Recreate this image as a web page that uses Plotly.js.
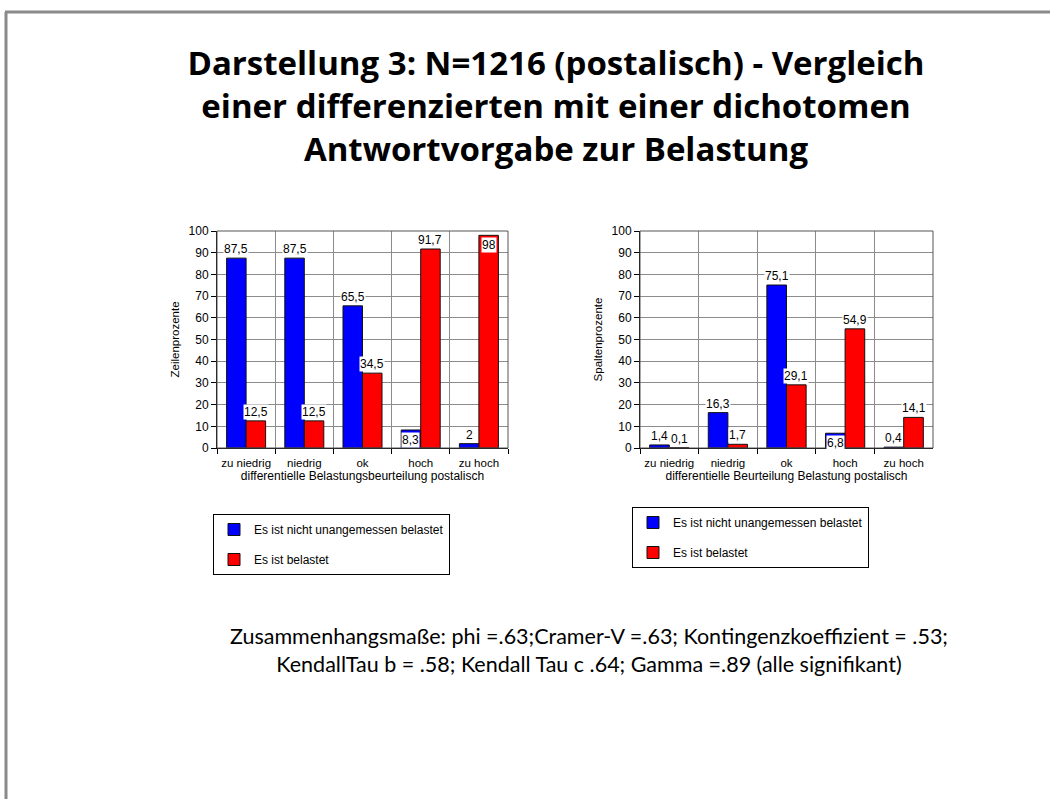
<!DOCTYPE html>
<html>
<head>
<meta charset="utf-8">
<script src="https://cdn.plot.ly/plotly-3.0.1.min.js"></script>
<style>html,body{margin:0;padding:0;background:#fff;}#chart{width:1050px;height:799px;}</style>
</head>
<body>
<div id="chart"></div>
<script>
// ---- data ----
const categories = ['zu niedrig', 'niedrig', 'ok', 'hoch', 'zu hoch'];
const seriesNames = ['Es ist nicht unangemessen belastet', 'Es ist belastet'];
const leftBlue = [87.5, 87.5, 65.5, 8.3, 2];
const leftRed = [12.5, 12.5, 34.5, 91.7, 98];
const rightBlue = [1.4, 16.3, 75.1, 6.8, 0.4];
const rightRed = [0.1, 1.7, 29.1, 54.9, 14.1];
const yTickVals = [0, 10, 20, 30, 40, 50, 60, 70, 80, 90, 100];
const titleText = 'Darstellung 3: N=1216 (postalisch) - Vergleich<br>einer differenzierten mit einer dichotomen<br>Antwortvorgabe zur Belastung';
const footText = 'Zusammenhangsmaße: phi =.63;Cramer-V =.63; Kontingenzkoeffizient = .53;<br>KendallTau b = .58; Kendall Tau c .64; Gamma =.89 (alle signifikant)';
const leftYTitle = 'Zeilenprozente';
const rightYTitle = 'Spaltenprozente';
const leftXTitle = 'differentielle Belastungsbeurteilung postalisch';
const rightXTitle = 'differentielle Beurteilung Belastung postalisch';

// ---- layout geometry ----
const W = 1050, H = 799;
const px = v => v / W, py = v => 1 - v / H;
const leftDom = [px(217), px(508)];
const rightDom = [px(640), px(933)];
const yDom = [py(448), py(231)];
const bargap = 0.33;
const BLUE = '#0000ff', RED = '#ff0000';
const font = 'Liberation Sans, Arial, sans-serif';
const fs = 12;

function fmt(v) { return String(v).replace('.', ','); }

function bar(y, color, name, xa, ya, leg, grp) {
  return {
    type: 'bar', x: categories, y: y, name: name,
    xaxis: xa, yaxis: ya, legend: leg, showlegend: true, legendgroup: grp + leg,
    marker: {color: color, line: {color: '#111', width: 1}},
    hoverinfo: 'x+y'
  };
}

const traces = [
  bar(leftBlue, BLUE, seriesNames[0], 'x', 'y', 'legend', 'a'),
  bar(leftRed, RED, seriesNames[1], 'x', 'y', 'legend', 'b'),
  bar(rightBlue, BLUE, seriesNames[0], 'x2', 'y2', 'legend2', 'a'),
  bar(rightRed, RED, seriesNames[1], 'x2', 'y2', 'legend2', 'b')
];

// value labels
const annotations = [];
function addLabels(vals, xref, yref, dom, side) {
  const catW = (dom[1] - dom[0]) * W / categories.length;
  const barW = catW * (1 - bargap) / 2;
  vals.forEach((v, i) => {
    const inside = v > 95 || (v > 5 && v < 10);
    annotations.push({
      x: categories[i], y: v, xref: xref, yref: yref,
      text: fmt(v), showarrow: false,
      xshift: side * barW / 2,
      yanchor: inside ? 'top' : 'bottom',
      yshift: inside ? -2 : 1,
      bgcolor: '#ffffff', borderpad: 0,
      font: {family: font, size: fs, color: '#000'}
    });
  });
}
addLabels(leftBlue, 'x', 'y', leftDom, -1);
addLabels(leftRed, 'x', 'y', leftDom, 1);
addLabels(rightBlue, 'x2', 'y2', rightDom, -1);
addLabels(rightRed, 'x2', 'y2', rightDom, 1);

annotations.push({
  xref: 'paper', yref: 'paper', x: px(589), y: py(621), yanchor: 'top', xanchor: 'center',
  text: footText, showarrow: false, align: 'center',
  font: {family: 'Lato, Open Sans, sans-serif', size: 21.5, color: '#000'}
});

function xaxis(dom, title, anchor) {
  return {
    domain: dom, anchor: anchor, type: 'category',
    tickson: 'boundaries', showgrid: true, gridcolor: '#8c8c8c', gridwidth: 1,
    ticks: 'outside', ticklen: 5, tickcolor: '#000', tickangle: 0, ticklabelstandoff: 4,
    showline: true, linecolor: '#000', linewidth: 1, mirror: false,
    tickfont: {family: font, size: 11.5, color: '#000'},
    title: {text: title, font: {family: font, size: fs, color: '#000'}, standoff: 1},
    fixedrange: true, automargin: false
  };
}
function yaxis(title, anchor) {
  return {
    domain: yDom, anchor: anchor, range: [0, 100], tickvals: yTickVals,
    showgrid: true, gridcolor: '#8c8c8c', gridwidth: 1, zeroline: false,
    ticks: 'outside', ticklen: 5, tickcolor: '#000',
    showline: true, linecolor: '#000', linewidth: 1,
    tickfont: {family: font, size: fs, color: '#000'},
    title: {text: title, font: {family: font, size: fs - 0.5, color: '#000'}, standoff: 6},
    fixedrange: true, automargin: false
  };
}

const legendCommon = {
  bgcolor: '#fff', bordercolor: '#000', borderwidth: 1,
  font: {family: font, size: 12, color: '#000'},
  orientation: 'v', xanchor: 'left', yanchor: 'top',
  tracegroupgap: 11, itemwidth: 30
};

const layout = {
  width: W, height: H,
  margin: {l: 0, r: 0, t: 0, b: 0},
  paper_bgcolor: '#fff', plot_bgcolor: '#fff',
  barmode: 'group', bargap: bargap, bargroupgap: 0,
  title: {
    text: titleText, x: px(556), xanchor: 'center', y: py(75), yanchor: 'top',
    font: {family: 'Open Sans, Lato, sans-serif', size: 33, color: '#000', weight: 'bold'}
  },
  xaxis: xaxis(leftDom, leftXTitle, 'y'),
  yaxis: yaxis(leftYTitle, 'x'),
  xaxis2: xaxis(rightDom, rightXTitle, 'y2'),
  yaxis2: yaxis(rightYTitle, 'x2'),
  legend: Object.assign({}, legendCommon, {x: px(213), y: py(514)}),
  legend2: Object.assign({}, legendCommon, {x: px(632), y: py(507)}),
  annotations: annotations,
  shapes: [
    {type: 'rect', xref: 'paper', yref: 'paper', x0: leftDom[0], x1: leftDom[1], y0: yDom[0], y1: yDom[1], line: {color: '#555', width: 1}},
    {type: 'rect', xref: 'paper', yref: 'paper', x0: rightDom[0], x1: rightDom[1], y0: yDom[0], y1: yDom[1], line: {color: '#555', width: 1}},
    {type: 'line', xref: 'paper', yref: 'paper', x0: px(5), x1: 1, y0: py(12), y1: py(12), line: {color: '#8a8a8a', width: 3}},
    {type: 'line', xref: 'paper', yref: 'paper', x0: px(6), x1: px(6), y0: py(12), y1: 0, line: {color: '#8a8a8a', width: 3}}
  ],
  hovermode: 'closest'
};

Plotly.newPlot('chart', traces, layout, {displayModeBar: false});
</script>
</body>
</html>
